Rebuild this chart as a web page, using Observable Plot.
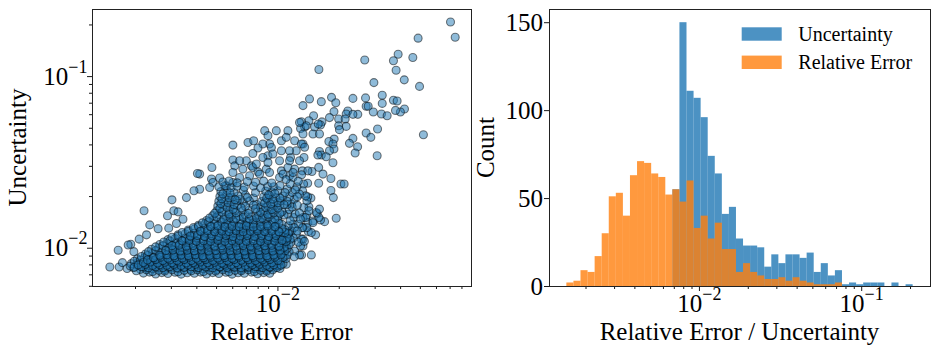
<!DOCTYPE html>
<html><head><meta charset="utf-8">
<script src="https://cdn.jsdelivr.net/npm/d3@7"></script>
<script src="https://cdn.jsdelivr.net/npm/@observablehq/plot@0.6"></script>
<style>
body{margin:0;background:#fff;}
#wrap{position:relative;width:939px;height:354px;display:flex;background:#fff;}
#wrap svg{display:block;flex:none;}
</style></head><body><div id="wrap"></div>
<script>
// ---- Scatter data: pairs of [log10(relative error), log10(uncertainty)] ----
const sparsePoints = [
[-1.153,-0.682],[-1.130,-0.771],[-1.312,-0.776],[-1.410,-0.870],[-1.433,-0.908],[-1.338,-0.889],[-1.574,-0.903],[-1.799,-0.959],[-1.420,-0.963],[-1.380,-1.019],[-1.305,-1.057],[-1.529,-1.035],[-1.488,-1.109],[-1.570,-1.124],[-1.632,-1.127],[-1.737,-1.121],[-1.716,-1.152],[-1.787,-1.146],[-1.845,-1.130],[-1.877,-1.169],[-1.433,-1.138],[-1.415,-1.142],[-1.488,-1.156],[-1.567,-1.173],[-1.557,-1.173],[-1.379,-1.189],[-1.399,-1.206],[-1.423,-1.197],[-1.532,-1.206],[-1.492,-1.218],[-1.464,-1.228],[-1.725,-1.204],[-1.657,-1.200],[-1.665,-1.218],[-1.608,-1.220],[-1.632,-1.220],[-1.825,-1.228],[-1.747,-1.239],[-1.702,-1.247],[-1.670,-1.247],[-1.784,-1.264],[-1.848,-1.257],[-1.885,-1.263],[-1.702,-1.286],[-1.665,-1.290],[-1.791,-1.282],[-1.820,-1.294],[-1.869,-1.294],[-1.889,-1.302],[-1.698,-1.309],[-1.511,-1.305],[-1.567,-1.329],[-1.286,-1.339]
];
const midPoints = [
[-1.544,-1.354],[-1.632,-1.360],[-1.649,-1.389],[-1.609,-1.409],[-1.621,-1.445],[-1.513,-1.461],[-1.724,-1.364],[-1.750,-1.378],[-1.730,-1.393],[-1.725,-1.422],[-1.747,-1.432],[-1.796,-1.436],[-1.787,-1.457],[-1.763,-1.467],[-1.804,-1.457],[-1.730,-1.502],[-1.800,-1.529],[-1.833,-1.553],[-1.779,-1.568],[-1.740,-1.594],[-1.800,-1.621],[-1.854,-1.621],[-1.691,-1.626],[-1.675,-1.626],[-1.740,-1.664],[-1.728,-1.705],[-1.714,-1.825],[-1.771,-1.845],[-1.791,-1.835],[-1.807,-1.798],[-1.815,-1.922],[-1.838,-1.708],[-1.854,-1.701],[-1.848,-1.759],[-1.858,-1.806],[-1.853,-1.851],[-1.851,-1.903],[-1.877,-1.880],[-1.877,-1.947],[-1.877,-1.987],[-1.836,-2.039],[-1.884,-2.039],[-1.802,-1.276],[-1.861,-1.286],[-1.828,-1.334],[-1.796,-1.334],[-1.877,-1.334],[-1.877,-1.393],[-1.872,-1.471],[-1.880,-1.549],[-1.874,-1.626],[-1.879,-1.665],[-1.873,-1.763],[-1.828,-1.841],[-1.877,-1.821],
[-2.221,-1.399],[-2.065,-1.315],[-2.008,-1.315],[-1.951,-1.315],[-2.147,-1.384],[-2.119,-1.374],[-2.049,-1.344],[-2.041,-1.393],[-2.074,-1.393],[-2.098,-1.416],[-2.123,-1.448],[-2.155,-1.490],[-2.130,-1.520],[-2.221,-1.486],[-2.212,-1.520],[-2.172,-1.539],[-2.123,-1.530],[-2.098,-1.555],[-2.057,-1.539],[-2.049,-1.461],[-1.983,-1.374],[-1.983,-1.432],[-1.992,-1.490],[-1.983,-1.549],[-1.951,-1.530],[-1.938,-1.471],[-1.918,-1.374],[-1.894,-1.267],[-1.885,-1.393],[-1.910,-1.432],[-1.894,-1.490],[-1.918,-1.539],[-2.324,-1.530],[-2.384,-1.568],[-2.326,-1.597],[-2.286,-1.591],[-2.188,-1.588],[-2.139,-1.578],[-1.992,-1.588],[-1.943,-1.578],[-1.869,-1.412],[-1.853,-1.549],[-1.959,-1.354],[-2.032,-1.413],[-2.074,-1.471],[-2.025,-1.451],[-1.943,-1.432],[-2.188,-1.490],[-2.106,-1.509],[-2.049,-1.500],[-1.943,-1.490],[-2.395,-1.565],[-2.319,-1.617],[-2.221,-1.559],[-2.090,-1.568],[-2.041,-1.559],[-1.975,-1.568],[-1.926,-1.588],[-2.384,-1.656],[-2.335,-1.646],[-2.253,-1.636],[-2.221,-1.617],[-2.520,-1.718],[-2.412,-1.665],[-2.449,-1.705],
[-1.884,-1.572],[-1.926,-1.559],[-1.894,-2.039],[-1.918,-2.016],[-1.836,-1.909],[-1.959,-2.093],[-1.992,-2.103],[-2.016,-2.103],[-1.885,-1.947],[-1.889,-1.987],[-1.799,-1.821],[-1.812,-1.792],[-1.796,-1.772],[-1.828,-1.851],[-1.858,-1.880],[-1.880,-1.880],[-1.864,-1.821],[-1.848,-1.782],[-1.858,-1.724],[-1.864,-1.695],[-1.894,-1.685],[-1.907,-1.642],[-1.934,-1.743],[-1.951,-1.802],[-1.922,-1.821],[-1.926,-1.860],[-1.899,-1.860],[-1.959,-1.967],[-1.967,-1.918],[-1.910,-1.918],[-1.934,-1.899],
[-2.825,-2.109],[-2.779,-2.109],[-2.763,-2.084],[-2.784,-2.012],[-2.707,-2.020],[-2.722,-1.977],[-2.735,-1.981],[-2.681,-1.947],[-2.645,-1.922],[-2.629,-1.864],[-2.588,-1.886],[-2.657,-1.782],[-2.511,-1.782],[-2.490,-1.788],[-2.542,-1.811],[-2.498,-1.856],[-2.466,-1.831],[-2.536,-1.883],
[-2.160,-1.690],[-2.120,-1.708],[-2.170,-1.662],[-2.110,-1.675],[-2.140,-1.725],[-2.170,-1.735],[-2.105,-1.745],[-2.150,-1.705],[-2.185,-1.715],
[-1.965,-2.045],[-1.945,-2.020],[-1.960,-1.990],[-1.935,-1.965],[-1.950,-1.935],[-1.925,-1.940],[-1.945,-1.905],[-1.920,-1.880],[-1.950,-1.870],[-1.940,-1.840],[-1.915,-1.800],[-1.945,-1.775],[-1.930,-1.760],[-1.955,-1.745],[-1.920,-1.715],[-1.945,-1.700],[-1.930,-1.675],[-1.955,-1.655],[-1.915,-1.660],[-1.940,-1.625],[-1.960,-1.600],[-1.900,-1.610],[-1.905,-1.750],[-1.895,-1.795],[-1.905,-1.900],[-1.900,-1.965],[-1.920,-2.050],[-1.905,-1.700],[-1.890,-1.830],[-1.870,-1.960]
];
const corePoints = [
[-2.66,-2.145],[-2.63,-2.139],[-2.60,-2.150],[-2.57,-2.142],[-2.54,-2.147],[-2.505,-2.140],[-2.475,-2.151],[-2.445,-2.143],[-2.41,-2.146],[-2.38,-2.139],[-2.35,-2.150],[-2.32,-2.142],[-2.29,-2.147],[-2.255,-2.140],[-2.225,-2.151],[-2.195,-2.143],[-2.165,-2.146],[-2.13,-2.139],[-2.10,-2.149],[-2.07,-2.142],[-2.04,-2.146],
[-2.74,-2.118],[-2.71,-2.112],[-2.675,-2.123],[-2.645,-2.115],[-2.615,-2.120],[-2.585,-2.113],[-2.555,-2.124],[-2.525,-2.116],[-2.49,-2.118],[-2.46,-2.112],[-2.43,-2.123],[-2.395,-2.115],[-2.365,-2.120],[-2.335,-2.113],[-2.30,-2.124],[-2.27,-2.116],[-2.24,-2.118],[-2.21,-2.112],[-2.18,-2.123],[-2.145,-2.115],[-2.115,-2.120],[-2.085,-2.113],[-2.055,-2.124],[-2.02,-2.116],[-1.99,-2.118],
[-2.72,-2.090],[-2.69,-2.084],[-2.66,-2.095],[-2.63,-2.087],[-2.60,-2.092],[-2.57,-2.085],[-2.54,-2.096],[-2.51,-2.088],[-2.48,-2.090],[-2.45,-2.084],[-2.415,-2.095],[-2.385,-2.087],[-2.35,-2.092],[-2.32,-2.085],[-2.29,-2.096],[-2.255,-2.088],[-2.225,-2.090],[-2.195,-2.084],[-2.16,-2.095],[-2.13,-2.087],[-2.10,-2.092],[-2.07,-2.085],[-2.035,-2.096],[-2.005,-2.088],[-1.975,-2.090],
[-2.69,-2.062],[-2.655,-2.056],[-2.625,-2.067],[-2.59,-2.059],[-2.56,-2.064],[-2.53,-2.057],[-2.495,-2.068],[-2.465,-2.060],[-2.43,-2.062],[-2.40,-2.056],[-2.37,-2.067],[-2.335,-2.059],[-2.305,-2.064],[-2.27,-2.057],[-2.24,-2.068],[-2.21,-2.060],[-2.175,-2.062],[-2.145,-2.056],[-2.115,-2.067],[-2.08,-2.059],[-2.05,-2.064],[-2.02,-2.057],[-1.99,-2.068],[-1.96,-2.060],
[-2.65,-2.034],[-2.615,-2.028],[-2.585,-2.039],[-2.55,-2.031],[-2.52,-2.036],[-2.49,-2.029],[-2.455,-2.040],[-2.425,-2.032],[-2.39,-2.034],[-2.36,-2.028],[-2.33,-2.039],[-2.295,-2.031],[-2.265,-2.036],[-2.235,-2.029],[-2.20,-2.040],[-2.17,-2.032],[-2.14,-2.034],[-2.105,-2.028],[-2.075,-2.039],[-2.045,-2.031],[-2.01,-2.036],[-1.98,-2.029],[-1.955,-2.040],
[-2.62,-2.006],[-2.585,-2.000],[-2.55,-2.011],[-2.52,-2.003],[-2.49,-2.008],[-2.455,-2.001],[-2.425,-2.012],[-2.395,-2.004],[-2.36,-2.006],[-2.33,-2.000],[-2.30,-2.011],[-2.265,-2.003],[-2.235,-2.008],[-2.205,-2.001],[-2.17,-2.012],[-2.14,-2.004],[-2.11,-2.006],[-2.075,-2.000],[-2.045,-2.011],[-2.015,-2.003],[-1.985,-2.008],[-1.955,-2.001],
[-2.58,-1.978],[-2.545,-1.972],[-2.515,-1.983],[-2.48,-1.975],[-2.45,-1.980],[-2.42,-1.973],[-2.385,-1.984],[-2.355,-1.976],[-2.325,-1.978],[-2.29,-1.972],[-2.26,-1.983],[-2.23,-1.975],[-2.195,-1.980],[-2.165,-1.973],[-2.135,-1.984],[-2.10,-1.976],[-2.07,-1.978],[-2.04,-1.972],[-2.005,-1.983],[-1.975,-1.975],[-1.945,-1.980],
[-2.54,-1.950],[-2.505,-1.944],[-2.475,-1.955],[-2.44,-1.947],[-2.41,-1.952],[-2.38,-1.945],[-2.345,-1.956],[-2.315,-1.948],[-2.285,-1.950],[-2.25,-1.944],[-2.22,-1.955],[-2.19,-1.947],[-2.155,-1.952],[-2.125,-1.945],[-2.095,-1.956],[-2.06,-1.948],[-2.03,-1.950],[-2.00,-1.944],[-1.97,-1.955],[-1.94,-1.947],
[-2.49,-1.922],[-2.455,-1.916],[-2.425,-1.927],[-2.39,-1.919],[-2.36,-1.924],[-2.33,-1.917],[-2.295,-1.928],[-2.265,-1.920],[-2.235,-1.922],[-2.20,-1.916],[-2.17,-1.927],[-2.14,-1.919],[-2.105,-1.924],[-2.075,-1.917],[-2.045,-1.928],[-2.01,-1.920],[-1.98,-1.922],[-1.95,-1.916],
[-2.44,-1.894],[-2.41,-1.888],[-2.375,-1.899],[-2.345,-1.891],[-2.31,-1.896],[-2.28,-1.889],[-2.25,-1.900],[-2.215,-1.892],[-2.185,-1.894],[-2.155,-1.888],[-2.12,-1.899],[-2.09,-1.891],[-2.06,-1.896],[-2.025,-1.889],[-1.995,-1.900],[-1.965,-1.892],
[-2.39,-1.866],[-2.36,-1.860],[-2.325,-1.871],[-2.295,-1.863],[-2.26,-1.868],[-2.23,-1.861],[-2.20,-1.872],[-2.165,-1.864],[-2.135,-1.866],[-2.105,-1.860],[-2.07,-1.871],[-2.04,-1.863],[-2.01,-1.868],[-1.98,-1.861],
[-2.35,-1.838],[-2.315,-1.832],[-2.28,-1.843],[-2.25,-1.835],[-2.22,-1.840],[-2.185,-1.833],[-2.155,-1.844],[-2.12,-1.836],[-2.09,-1.838],[-2.06,-1.832],[-2.03,-1.843],[-2.00,-1.835],
[-2.32,-1.810],[-2.29,-1.804],[-2.255,-1.815],[-2.225,-1.807],[-2.19,-1.812],[-2.16,-1.805],[-2.13,-1.816],[-2.095,-1.808],[-2.065,-1.810],[-2.035,-1.804],[-2.00,-1.815],[-1.97,-1.807],
[-2.30,-1.782],[-2.27,-1.776],[-2.24,-1.787],[-2.21,-1.779],[-2.175,-1.784],[-2.14,-1.777],[-2.10,-1.788],[-2.07,-1.780],[-2.04,-1.782],[-2.01,-1.776],[-1.98,-1.787],
[-2.295,-1.754],[-2.265,-1.748],[-2.235,-1.759],[-2.20,-1.751],[-2.16,-1.756],[-2.12,-1.749],[-2.085,-1.760],[-2.05,-1.752],[-2.02,-1.754],[-1.99,-1.748],
[-2.29,-1.726],[-2.26,-1.720],[-2.23,-1.731],[-2.20,-1.723],[-2.08,-1.728],[-2.05,-1.721],[-2.02,-1.732],[-1.985,-1.724],[-1.955,-1.726],
[-2.285,-1.698],[-2.255,-1.692],[-2.225,-1.703],[-2.195,-1.695],[-2.07,-1.700],[-2.04,-1.693],[-2.01,-1.704],[-1.975,-1.696],
[-2.28,-1.670],[-2.25,-1.664],[-2.215,-1.675],[-2.06,-1.667],[-2.03,-1.672],[-2.00,-1.665],[-1.965,-1.676],
[-2.29,-1.642],[-2.26,-1.636],[-2.23,-1.647],[-2.20,-1.639],[-2.165,-1.644],[-2.12,-1.637],[-2.085,-1.648],[-2.05,-1.640],[-2.02,-1.642],[-1.99,-1.636],
[-2.27,-1.614],[-2.24,-1.608],[-2.20,-1.619],[-2.15,-1.611],[-2.11,-1.616],[-2.07,-1.609],[-2.03,-1.620]
];
const coreInnerPoints = [
[-2.695,-2.131],[-2.645,-2.125],[-2.615,-2.136],[-2.585,-2.128],[-2.555,-2.133],[-2.52,-2.126],[-2.49,-2.137],[-2.46,-2.129],[-2.425,-2.131],[-2.395,-2.125],[-2.365,-2.136],[-2.335,-2.128],[-2.305,-2.133],[-2.27,-2.126],[-2.24,-2.137],[-2.21,-2.129],[-2.18,-2.131],[-2.145,-2.125],[-2.115,-2.136],[-2.085,-2.128],[-2.055,-2.133],[-2.025,-2.126],
[-2.725,-2.104],[-2.69,-2.098],[-2.66,-2.109],[-2.63,-2.101],[-2.60,-2.106],[-2.57,-2.099],[-2.54,-2.110],[-2.505,-2.102],[-2.475,-2.104],[-2.445,-2.098],[-2.41,-2.109],[-2.38,-2.101],[-2.35,-2.106],[-2.315,-2.099],[-2.285,-2.110],[-2.255,-2.102],[-2.225,-2.104],[-2.195,-2.098],[-2.16,-2.109],[-2.13,-2.101],[-2.10,-2.106],[-2.07,-2.099],[-2.04,-2.110],[-2.005,-2.102],
[-2.705,-2.076],[-2.675,-2.070],[-2.645,-2.081],[-2.615,-2.073],[-2.585,-2.078],[-2.555,-2.071],[-2.525,-2.082],[-2.495,-2.074],[-2.465,-2.076],[-2.43,-2.070],[-2.40,-2.081],[-2.37,-2.073],[-2.335,-2.078],[-2.305,-2.071],[-2.27,-2.082],[-2.24,-2.074],[-2.21,-2.076],[-2.18,-2.070],[-2.145,-2.081],[-2.115,-2.073],[-2.085,-2.078],[-2.05,-2.071],[-2.02,-2.082],[-1.99,-2.074],
[-2.67,-2.048],[-2.64,-2.042],[-2.61,-2.053],[-2.575,-2.045],[-2.545,-2.050],[-2.51,-2.043],[-2.48,-2.054],[-2.45,-2.046],[-2.415,-2.048],[-2.385,-2.042],[-2.35,-2.053],[-2.32,-2.045],[-2.29,-2.050],[-2.255,-2.043],[-2.225,-2.054],[-2.19,-2.046],[-2.16,-2.048],[-2.13,-2.042],[-2.095,-2.053],[-2.065,-2.045],[-2.035,-2.050],[-2.005,-2.043],[-1.975,-2.054],
[-2.635,-2.020],[-2.60,-2.014],[-2.57,-2.025],[-2.535,-2.017],[-2.505,-2.022],[-2.47,-2.015],[-2.44,-2.026],[-2.41,-2.018],[-2.375,-2.020],[-2.345,-2.014],[-2.315,-2.025],[-2.28,-2.017],[-2.25,-2.022],[-2.22,-2.015],[-2.185,-2.026],[-2.155,-2.018],[-2.125,-2.020],[-2.09,-2.014],[-2.06,-2.025],[-2.03,-2.017],[-1.995,-2.022],[-1.965,-2.015],
[-2.60,-1.992],[-2.565,-1.986],[-2.535,-1.997],[-2.505,-1.989],[-2.47,-1.994],[-2.44,-1.987],[-2.41,-1.998],[-2.375,-1.990],[-2.345,-1.992],[-2.315,-1.986],[-2.28,-1.997],[-2.25,-1.989],[-2.22,-1.994],[-2.185,-1.987],[-2.155,-1.998],[-2.125,-1.990],[-2.09,-1.992],[-2.06,-1.986],[-2.03,-1.997],[-2.0,-1.989],[-1.97,-1.994],
[-2.56,-1.964],[-2.53,-1.958],[-2.50,-1.969],[-2.465,-1.961],[-2.435,-1.966],[-2.40,-1.959],[-2.37,-1.970],[-2.34,-1.962],[-2.305,-1.964],[-2.275,-1.958],[-2.245,-1.969],[-2.21,-1.961],[-2.18,-1.966],[-2.15,-1.959],[-2.115,-1.970],[-2.085,-1.962],[-2.055,-1.964],[-2.02,-1.958],[-1.99,-1.969],[-1.96,-1.961],
[-2.52,-1.936],[-2.49,-1.930],[-2.455,-1.941],[-2.425,-1.933],[-2.395,-1.938],[-2.36,-1.931],[-2.33,-1.942],[-2.30,-1.934],[-2.265,-1.936],[-2.235,-1.930],[-2.205,-1.941],[-2.17,-1.933],[-2.14,-1.938],[-2.11,-1.931],[-2.075,-1.942],[-2.045,-1.934],[-2.015,-1.936],[-1.985,-1.930],[-1.955,-1.941],
[-2.47,-1.908],[-2.44,-1.902],[-2.41,-1.913],[-2.375,-1.905],[-2.345,-1.910],[-2.31,-1.903],[-2.28,-1.914],[-2.25,-1.906],[-2.215,-1.908],[-2.185,-1.902],[-2.155,-1.913],[-2.12,-1.905],[-2.09,-1.910],[-2.06,-1.903],[-2.025,-1.914],[-1.995,-1.906],[-1.965,-1.908],
[-2.415,-1.880],[-2.39,-1.874],[-2.36,-1.885],[-2.33,-1.877],[-2.295,-1.882],[-2.265,-1.875],[-2.235,-1.886],[-2.20,-1.878],[-2.17,-1.880],[-2.14,-1.874],[-2.105,-1.885],[-2.075,-1.877],[-2.045,-1.882],[-2.01,-1.875],[-1.98,-1.886],
[-2.37,-1.852],[-2.34,-1.846],[-2.31,-1.857],[-2.275,-1.849],[-2.245,-1.854],[-2.215,-1.847],[-2.18,-1.858],[-2.15,-1.850],[-2.12,-1.852],[-2.085,-1.846],[-2.055,-1.857],[-2.025,-1.849],[-1.995,-1.854],
[-2.335,-1.824],[-2.30,-1.818],[-2.265,-1.829],[-2.235,-1.821],[-2.205,-1.826],[-2.17,-1.819],[-2.14,-1.830],[-2.105,-1.822],[-2.075,-1.824],[-2.045,-1.818],[-2.015,-1.829],
[-2.31,-1.796],[-2.275,-1.790],[-2.24,-1.801],[-2.205,-1.793],[-2.145,-1.798],[-2.085,-1.791],[-2.05,-1.802],[-2.02,-1.794],[-1.99,-1.796],
[-2.285,-1.768],[-2.25,-1.762],[-2.22,-1.773],[-2.18,-1.765],[-2.11,-1.770],[-2.06,-1.763],[-2.03,-1.774],[-2.0,-1.766],
[-2.28,-1.740],[-2.245,-1.734],[-2.215,-1.745],[-2.065,-1.737],[-2.035,-1.742],[-2.0,-1.735],[-1.97,-1.746],
[-2.275,-1.712],[-2.24,-1.706],[-2.21,-1.717],[-2.055,-1.709],[-2.025,-1.714],[-1.99,-1.707],
[-2.27,-1.684],[-2.235,-1.678],[-2.045,-1.689],[-2.015,-1.681]
];
const coreDensePoints = [
[-2.705,-2.111],[-2.67,-2.108],[-2.635,-2.114],[-2.60,-2.110],[-2.565,-2.113],[-2.53,-2.108],[-2.495,-2.114],[-2.46,-2.111],[-2.425,-2.108],[-2.39,-2.113],[-2.355,-2.110],[-2.32,-2.114],[-2.285,-2.108],[-2.25,-2.112],[-2.215,-2.109],[-2.18,-2.114],[-2.145,-2.110],[-2.11,-2.108],[-2.075,-2.113],[-2.04,-2.110],[-2.005,-2.112],
[-2.685,-2.097],[-2.65,-2.094],[-2.615,-2.100],[-2.58,-2.096],[-2.545,-2.099],[-2.51,-2.094],[-2.475,-2.100],[-2.44,-2.097],[-2.405,-2.094],[-2.37,-2.099],[-2.335,-2.096],[-2.30,-2.100],[-2.265,-2.094],[-2.23,-2.098],[-2.195,-2.095],[-2.16,-2.100],[-2.125,-2.096],[-2.09,-2.094],[-2.055,-2.099],[-2.02,-2.096],[-1.985,-2.098],
[-2.66,-2.083],[-2.625,-2.080],[-2.59,-2.086],[-2.555,-2.082],[-2.52,-2.085],[-2.485,-2.080],[-2.45,-2.086],[-2.415,-2.083],[-2.38,-2.080],[-2.345,-2.085],[-2.31,-2.082],[-2.275,-2.086],[-2.24,-2.080],[-2.205,-2.084],[-2.17,-2.081],[-2.135,-2.086],[-2.10,-2.082],[-2.065,-2.080],[-2.03,-2.085],
[-2.64,-2.069],[-2.60,-2.066],[-2.565,-2.072],[-2.53,-2.068],[-2.495,-2.071],[-2.46,-2.066],[-2.425,-2.072],[-2.39,-2.069],[-2.355,-2.066],[-2.32,-2.071],[-2.285,-2.068],[-2.25,-2.072],[-2.215,-2.066],[-2.18,-2.070],[-2.145,-2.067],[-2.11,-2.072],[-2.075,-2.068],[-2.04,-2.066],[-2.0,-2.071],
[-2.61,-2.055],[-2.575,-2.052],[-2.54,-2.058],[-2.505,-2.054],[-2.47,-2.057],[-2.435,-2.052],[-2.40,-2.058],[-2.365,-2.055],[-2.33,-2.052],[-2.295,-2.057],[-2.26,-2.054],[-2.225,-2.058],[-2.19,-2.052],[-2.155,-2.056],[-2.12,-2.053],[-2.085,-2.058],[-2.05,-2.054],[-2.015,-2.052],
[-2.58,-2.041],[-2.545,-2.038],[-2.51,-2.044],[-2.475,-2.040],[-2.44,-2.043],[-2.405,-2.038],[-2.37,-2.044],[-2.335,-2.041],[-2.30,-2.038],[-2.265,-2.043],[-2.23,-2.040],[-2.195,-2.044],[-2.16,-2.038],[-2.125,-2.042],[-2.09,-2.039],[-2.055,-2.044],[-2.02,-2.040],[-1.985,-2.038],
[-2.55,-2.013],[-2.515,-2.010],[-2.48,-2.016],[-2.445,-2.012],[-2.41,-2.015],[-2.375,-2.010],[-2.34,-2.016],[-2.305,-2.013],[-2.27,-2.010],[-2.235,-2.015],[-2.20,-2.012],[-2.165,-2.016],[-2.13,-2.010],[-2.095,-2.014],[-2.06,-2.011],[-2.025,-2.016],[-1.99,-2.012],
[-2.52,-1.985],[-2.485,-1.982],[-2.45,-1.988],[-2.415,-1.984],[-2.38,-1.987],[-2.345,-1.982],[-2.31,-1.988],[-2.275,-1.985],[-2.24,-1.982],[-2.205,-1.987],[-2.17,-1.984],[-2.135,-1.988],[-2.10,-1.982],[-2.065,-1.986],[-2.03,-1.983],[-1.995,-1.988],
[-2.47,-1.957],[-2.435,-1.954],[-2.40,-1.960],[-2.365,-1.956],[-2.33,-1.959],[-2.295,-1.954],[-2.26,-1.960],[-2.225,-1.957],[-2.19,-1.954],[-2.155,-1.959],[-2.12,-1.956],[-2.085,-1.960],[-2.05,-1.954],[-2.015,-1.958],[-1.98,-1.955],
[-2.43,-1.929],[-2.395,-1.926],[-2.36,-1.932],[-2.325,-1.928],[-2.29,-1.931],[-2.255,-1.926],[-2.22,-1.932],[-2.185,-1.929],[-2.15,-1.926],[-2.115,-1.931],[-2.08,-1.928],[-2.045,-1.932],[-2.01,-1.926],
[-2.38,-1.901],[-2.345,-1.898],[-2.31,-1.904],[-2.275,-1.900],[-2.24,-1.903],[-2.205,-1.898],[-2.17,-1.904],[-2.135,-1.901],[-2.10,-1.898],[-2.065,-1.903],[-2.03,-1.900],[-1.995,-1.904],
[-2.33,-1.873],[-2.295,-1.870],[-2.26,-1.876],[-2.225,-1.872],[-2.19,-1.875],[-2.155,-1.870],[-2.12,-1.876],[-2.085,-1.873],[-2.05,-1.870],[-2.015,-1.875]
];

// ---- Histogram data: 49 log-spaced bins between binMin and binMax ----
const binMin = 0.001524, binMax = 0.2075, binCount = 49;
const uncertaintyCounts = [0,0,0,0,0,0,0,0,0,0,0,0,0,0,0,55,150,111,107,96,74,64,41,45,27,23,23,22,11,18,13,18,18,16,19,8,13,6,9,1,2,1,2,2,2,0,2,0,1];
const relErrorCounts   = [2,3,9,8,17,30,51,53,40,63,71,70,64,62,52,55,48,60,33,40,27,36,21,21,8,13,8,6,4,4,5,3,5,3,2,1,1,1,2,0,0,0,0,0,0,0,0,0,0];

// ---- Ticks ----
const leftXMajor = [0.01];
const leftXMinor = [0.002,0.003,0.004,0.005,0.006,0.007,0.008,0.009,0.02,0.03,0.04,0.05,0.06,0.07,0.08];
const leftYMajor = [0.01, 0.1];
const leftYMinor = [0.006,0.007,0.008,0.009,0.02,0.03,0.04,0.05,0.06,0.07,0.08,0.09,0.2];
const rightXMajor = [0.01, 0.1];
const rightXMinor = [0.002,0.003,0.004,0.005,0.006,0.007,0.008,0.009,0.02,0.03,0.04,0.05,0.06,0.07,0.08,0.09,0.2];
const rightYMajor = [0, 50, 100, 150];

const seriesNames = ["Uncertainty", "Relative Error"];
const seriesColors = ["#1f77b4", "#ff7f0e"];

const FONT = "'Liberation Serif', 'Times New Roman', Times, serif";
const points = [...sparsePoints, ...midPoints, ...corePoints, ...coreInnerPoints, ...coreDensePoints]
  .map(([a, b]) => ({relErr: 10 ** a, uncert: 10 ** b}));

const lo = Math.log10(binMin), hi = Math.log10(binMax);
const edges = d3.range(binCount + 1).map(i => 10 ** (lo + (hi - lo) * i / binCount));
const mkBins = counts => counts.map((n, i) => ({x1: edges[i], x2: edges[i + 1], n})).filter(d => d.n > 0);

const powFmt = d => "10^" + Math.round(Math.log10(d));
const styleObj = {fontFamily: FONT, fontSize: "25px", background: "white", color: "#1a1a1a", overflow: "visible"};

const left = Plot.plot({
  width: 475, height: 354, marginLeft: 92, marginRight: 4, marginTop: 9, marginBottom: 68,
  style: styleObj,
  x: {type: "log", domain: [10 ** -2.91, 10 ** -1.05]},
  y: {type: "log", domain: [10 ** -2.223, 10 ** -0.609]},
  marks: [
    Plot.dot(points, {x: "relErr", y: "uncert", r: 4, fill: seriesColors[0], fillOpacity: 0.5, stroke: "black", strokeOpacity: 0.5, strokeWidth: 1.1}),
    Plot.axisX(leftXMajor, {tickSize: 5, tickPadding: 3, tickFormat: powFmt, fontSize: 25, label: null}),
    Plot.axisX(leftXMinor, {tickSize: 3, tickFormat: () => "", label: null}),
    Plot.axisY(leftYMajor, {tickSize: 5, tickPadding: 0, tickFormat: powFmt, fontSize: 25, label: null}),
    Plot.axisY(leftYMinor, {tickSize: 3, tickFormat: () => "", label: null}),
    Plot.frame({stroke: "#222", strokeWidth: 1})
  ]
});

const right = Plot.plot({
  width: 464, height: 354, marginLeft: 74, marginRight: 9, marginTop: 9, marginBottom: 68,
  style: styleObj,
  x: {type: "log", domain: [10 ** -2.924, 10 ** -0.576]},
  y: {domain: [0, 157.5]},
  marks: [
    Plot.rect(mkBins(uncertaintyCounts), {x1: "x1", x2: "x2", y1: 0, y2: "n", fill: seriesColors[0], fillOpacity: 0.8}),
    Plot.rect(mkBins(relErrorCounts), {x1: "x1", x2: "x2", y1: 0, y2: "n", fill: seriesColors[1], fillOpacity: 0.8}),
    Plot.axisX(rightXMajor, {tickSize: 5, tickPadding: 3, tickFormat: powFmt, fontSize: 25, label: null}),
    Plot.axisX(rightXMinor, {tickSize: 3, tickFormat: () => "", label: null}),
    Plot.axisY(rightYMajor, {tickSize: 5, tickPadding: 1.5, fontSize: 25, label: null}),
    Plot.frame({stroke: "#222", strokeWidth: 1})
  ]
});

const wrap = document.getElementById("wrap");
wrap.append(left, right);

// superscript exponents in tick labels
for (const svg of [left, right]) {
  d3.select(svg).selectAll("text").each(function () {
    const m = /^10\^(-?\d+)$/.exec(this.textContent.trim());
    if (!m) return;
    const t = d3.select(this);
    t.text("");
    t.append("tspan").text("10");
    t.append("tspan").attr("font-size", 18).attr("dy", -12).text(m[1].replace("-", "\u2212"));
  });
}

function addText(svg, txt, x, y, rot, size, anchor = "middle") {
  const t = d3.select(svg).append("text")
    .attr("text-anchor", anchor).attr("font-size", size).attr("fill", "black")
    .text(txt);
  if (rot) t.attr("transform", `translate(${x},${y}) rotate(-90)`);
  else t.attr("x", x).attr("y", y);
  return t;
}
addText(left, "Relative Error", 281.5, 339.5, false, 25);
addText(left, "Uncertainty", 26, 147.5, true, 25);
addText(right, "Relative Error / Uncertainty", 264.5, 339.5, false, 25);
addText(right, "Count", 18.5, 147.5, true, 25);

// legend (inside the upper right of the histogram)
const lg = d3.select(right).append("g");
seriesNames.forEach((name, i) => {
  const cy = 34 + i * 28.3;
  lg.append("rect").attr("x", 266.7).attr("y", cy - 6.7).attr("width", 40).attr("height", 13.4)
    .attr("fill", seriesColors[i]).attr("fill-opacity", 0.8);
  lg.append("text").attr("x", 323.3).attr("y", cy).attr("dy", "0.34em").attr("text-anchor", "start")
    .attr("font-size", 20).attr("fill", "black").text(name);
});

// force the serif face on every text
for (const svg of [left, right]) {
  d3.select(svg).selectAll("text").style("font-family", FONT).attr("fill", "black");
}
</script></body></html>
